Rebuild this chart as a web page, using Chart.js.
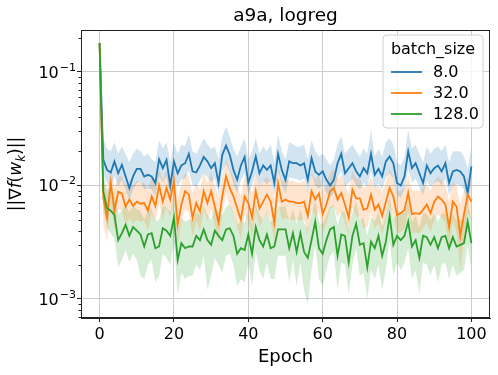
<!DOCTYPE html>
<html><head><meta charset="utf-8">
<script src="https://cdn.jsdelivr.net/npm/chart.js@4/dist/chart.umd.min.js"></script>
<style>html,body{margin:0;padding:0;background:#fff;}canvas{display:block;}</style>
</head><body>
<canvas id="c" width="498" height="375"></canvas>
<script>
const epochs = Array.from({length:101},(_,i)=>i);
const xTicks = [0,20,40,60,80,100];
const yTicks = [1e-3,1e-2,1e-1];
const yTickExponents = ['\u22123','\u22122','\u22121'];
const seriesNames = ['8.0','32.0','128.0'];

const blueMean = [0.18,0.0168,0.0137,0.013,0.0163,0.0128,0.0152,0.012,0.0095,0.012,0.014,0.014,0.012,0.0124,0.012,0.0105,0.017,0.0142,0.0168,0.0100,0.0163,0.0128,0.015,0.0157,0.019,0.0133,0.013,0.015,0.0178,0.0163,0.0142,0.0157,0.0105,0.0186,0.0224,0.0186,0.0137,0.0112,0.015,0.0178,0.0105,0.0133,0.018,0.0128,0.015,0.0137,0.015,0.0105,0.019,0.0137,0.0112,0.0163,0.0157,0.0157,0.015,0.0157,0.0112,0.0174,0.0133,0.0124,0.0133,0.0112,0.010,0.0112,0.0157,0.019,0.0128,0.0142,0.0157,0.0133,0.012,0.0142,0.0128,0.019,0.0124,0.014,0.012,0.0163,0.018,0.0157,0.0105,0.010,0.012,0.020,0.0142,0.0157,0.0128,0.0105,0.015,0.0128,0.0142,0.015,0.0133,0.0157,0.0105,0.0133,0.0137,0.0133,0.012,0.0086,0.0147];
const blueUpper = [0.185,0.026,0.021,0.020,0.024,0.019,0.022,0.019,0.016,0.019,0.021,0.020,0.018,0.019,0.017,0.016,0.025,0.021,0.024,0.016,0.024,0.019,0.023,0.022,0.028,0.020,0.019,0.022,0.026,0.023,0.021,0.022,0.017,0.027,0.033,0.027,0.021,0.018,0.022,0.026,0.017,0.020,0.026,0.019,0.022,0.020,0.023,0.016,0.028,0.020,0.017,0.024,0.023,0.022,0.022,0.023,0.017,0.025,0.020,0.018,0.019,0.017,0.015,0.017,0.023,0.027,0.019,0.021,0.023,0.020,0.018,0.021,0.019,0.031,0.018,0.021,0.018,0.024,0.026,0.023,0.016,0.015,0.018,0.031,0.021,0.023,0.019,0.016,0.022,0.019,0.021,0.022,0.020,0.023,0.016,0.020,0.020,0.020,0.018,0.014,0.022];
const blueLower = [0.175,0.0125,0.0105,0.0098,0.012,0.0098,0.0112,0.0092,0.0074,0.0092,0.0105,0.0106,0.0092,0.0094,0.0092,0.0082,0.0122,0.0106,0.0122,0.0078,0.0118,0.0097,0.0112,0.0116,0.0135,0.0100,0.0098,0.011,0.0128,0.0118,0.0106,0.0115,0.0082,0.0132,0.0155,0.0134,0.0102,0.0086,0.011,0.0128,0.0082,0.0100,0.0128,0.0097,0.011,0.0103,0.011,0.0081,0.0135,0.0102,0.0086,0.0118,0.0115,0.0114,0.011,0.0115,0.0086,0.0125,0.0100,0.0094,0.010,0.0086,0.0078,0.0086,0.0115,0.0135,0.0097,0.0105,0.0115,0.010,0.0092,0.0105,0.0097,0.0135,0.0094,0.0104,0.0092,0.0118,0.0128,0.0115,0.0082,0.0078,0.0092,0.014,0.0105,0.0115,0.0097,0.0082,0.011,0.0097,0.0105,0.011,0.010,0.0115,0.0082,0.010,0.0102,0.010,0.0092,0.0066,0.011];

const orangeMean = [0.18,0.0078,0.0052,0.0105,0.0060,0.0088,0.0085,0.0065,0.0075,0.0066,0.0072,0.0069,0.0070,0.0060,0.0080,0.0066,0.0100,0.0072,0.0095,0.0075,0.0108,0.0045,0.0068,0.0089,0.0083,0.0052,0.0070,0.0059,0.0089,0.0070,0.0089,0.0065,0.0047,0.0080,0.0120,0.0095,0.0080,0.0063,0.0050,0.0080,0.0070,0.0052,0.0089,0.0063,0.0072,0.0083,0.0072,0.0047,0.0105,0.0072,0.0075,0.0072,0.0072,0.0070,0.0070,0.0072,0.0054,0.0089,0.0075,0.0085,0.0056,0.0068,0.0089,0.0095,0.0075,0.0086,0.0068,0.0052,0.0092,0.0077,0.0077,0.0061,0.0063,0.0083,0.0061,0.0068,0.0054,0.0072,0.0095,0.0080,0.0055,0.0057,0.0061,0.0086,0.0056,0.0057,0.0056,0.0061,0.0068,0.0057,0.0072,0.0080,0.0075,0.0068,0.0043,0.0072,0.0065,0.0036,0.0056,0.0083,0.0072];
const orangeUpper = [0.185,0.011,0.0085,0.014,0.0095,0.012,0.012,0.0098,0.011,0.010,0.011,0.0105,0.0105,0.0092,0.0118,0.010,0.014,0.011,0.0135,0.011,0.015,0.0075,0.0105,0.013,0.012,0.0085,0.0105,0.0092,0.013,0.0105,0.013,0.010,0.0078,0.012,0.017,0.014,0.012,0.0098,0.0082,0.012,0.0105,0.0085,0.013,0.0098,0.011,0.012,0.011,0.0078,0.015,0.011,0.0112,0.011,0.011,0.0105,0.0105,0.011,0.0088,0.013,0.0112,0.0125,0.009,0.0102,0.013,0.014,0.0112,0.0125,0.0102,0.0085,0.0135,0.0115,0.0115,0.0095,0.0098,0.012,0.0095,0.0102,0.0088,0.0108,0.014,0.012,0.0088,0.009,0.0095,0.0125,0.009,0.009,0.009,0.0095,0.0102,0.009,0.0108,0.012,0.0112,0.0102,0.0072,0.0108,0.010,0.0068,0.009,0.012,0.0108];
const orangeLower = [0.175,0.0045,0.0032,0.0072,0.0040,0.0062,0.006,0.0045,0.0052,0.0046,0.005,0.0048,0.0049,0.0041,0.0056,0.0046,0.007,0.005,0.0066,0.0052,0.0075,0.003,0.0047,0.0062,0.0058,0.0035,0.0049,0.004,0.0062,0.0049,0.0062,0.0045,0.0032,0.0056,0.0084,0.0066,0.0056,0.0043,0.0034,0.0056,0.0049,0.0035,0.0062,0.0043,0.005,0.0058,0.005,0.0032,0.0073,0.005,0.0052,0.005,0.005,0.0049,0.0049,0.005,0.0037,0.0062,0.0052,0.0059,0.0038,0.0047,0.0062,0.0066,0.0052,0.006,0.0047,0.0036,0.0064,0.0053,0.0053,0.0042,0.0043,0.0058,0.0042,0.0047,0.0037,0.005,0.0066,0.0055,0.0038,0.0039,0.0042,0.006,0.0038,0.0039,0.0038,0.0042,0.0047,0.0039,0.005,0.0056,0.0052,0.0047,0.0028,0.005,0.0038,0.0018,0.0034,0.0058,0.005];

const greenMean = [0.18,0.0088,0.0063,0.0060,0.0055,0.0033,0.0038,0.0045,0.0036,0.0043,0.0040,0.0037,0.0029,0.0037,0.0038,0.0028,0.0029,0.0042,0.0040,0.0036,0.0052,0.0022,0.0031,0.0028,0.0029,0.0029,0.0036,0.0033,0.0041,0.0033,0.0030,0.0040,0.0036,0.0033,0.0041,0.0042,0.0036,0.0025,0.0028,0.0027,0.0037,0.0025,0.0043,0.0033,0.0029,0.0037,0.0028,0.0029,0.0041,0.0041,0.0041,0.0028,0.0038,0.0026,0.0038,0.0026,0.0023,0.0033,0.0048,0.0028,0.0025,0.0033,0.0041,0.0043,0.0024,0.0037,0.0036,0.0021,0.0036,0.0046,0.0030,0.0031,0.0019,0.0032,0.0028,0.0036,0.0024,0.0032,0.0054,0.0030,0.0036,0.0033,0.0036,0.0048,0.0029,0.0033,0.0023,0.0036,0.0035,0.0030,0.0035,0.0028,0.0035,0.0036,0.0028,0.0035,0.0029,0.0030,0.0031,0.0048,0.0031];
const greenUpper = [0.185,0.012,0.0095,0.009,0.0085,0.0055,0.006,0.0068,0.0058,0.0066,0.0062,0.006,0.005,0.006,0.0062,0.0048,0.005,0.0066,0.0065,0.0058,0.008,0.004,0.0052,0.0048,0.005,0.005,0.0058,0.0055,0.0065,0.0055,0.005,0.0064,0.0058,0.0055,0.0065,0.0068,0.0058,0.0045,0.0048,0.0047,0.006,0.0045,0.0068,0.0055,0.005,0.006,0.0048,0.005,0.0065,0.0065,0.0065,0.0048,0.0062,0.0046,0.0062,0.0046,0.0042,0.0055,0.0075,0.0048,0.0045,0.0055,0.0065,0.0068,0.0044,0.006,0.0058,0.004,0.0058,0.0072,0.005,0.0052,0.0036,0.0053,0.0048,0.0058,0.0043,0.0053,0.008,0.005,0.0058,0.0055,0.0058,0.0072,0.0048,0.0055,0.0042,0.0058,0.0056,0.005,0.0056,0.0048,0.0056,0.0058,0.0048,0.0056,0.0049,0.005,0.0051,0.0072,0.005];
const greenLower = [0.175,0.0062,0.0042,0.0038,0.0034,0.0019,0.0022,0.0027,0.0021,0.0025,0.0022,0.0016,0.0015,0.002,0.0022,0.0014,0.0016,0.0025,0.0023,0.002,0.0032,0.0011,0.0017,0.0015,0.0016,0.0016,0.002,0.0018,0.0024,0.0012,0.0016,0.0023,0.002,0.0017,0.0024,0.0025,0.002,0.0013,0.0015,0.0014,0.0021,0.0013,0.0026,0.0018,0.0015,0.0021,0.0015,0.0015,0.0024,0.0024,0.0024,0.0014,0.0022,0.0013,0.0021,0.0012,0.0009,0.0018,0.003,0.0015,0.0013,0.0018,0.0024,0.0026,0.0012,0.0021,0.002,0.0011,0.002,0.0028,0.0016,0.0017,0.001,0.0018,0.0015,0.002,0.0012,0.0018,0.0033,0.0016,0.0021,0.0018,0.0021,0.0028,0.0015,0.0018,0.0011,0.0021,0.002,0.0016,0.002,0.0014,0.002,0.0021,0.0015,0.002,0.0016,0.0017,0.0018,0.003,0.0018];

const colors = ['#1f77b4','#ff7f0e','#2ca02c'];
const bandColors = ['rgba(31,119,180,0.2)','rgba(255,127,14,0.2)','rgba(44,160,44,0.2)'];
const means = [blueMean, orangeMean, greenMean];
const uppers = [blueUpper, orangeUpper, greenUpper];
const lowers = [blueLower, orangeLower, greenLower];

function pts(arr){ return arr.map((v,i)=>({x:epochs[i], y:v})); }

const datasets = [];
for (let s=0;s<3;s++){
  datasets.push({label:'up'+s, data:pts(uppers[s]), borderWidth:0, pointRadius:0, fill:'+1', backgroundColor:bandColors[s], borderColor:'rgba(0,0,0,0)', order:10, tension:0});
  datasets.push({label:'lo'+s, data:pts(lowers[s]), borderWidth:0, pointRadius:0, fill:false, borderColor:'rgba(0,0,0,0)', order:10, tension:0});
}
for (let s=0;s<3;s++){
  datasets.push({label:seriesNames[s], data:pts(means[s]), borderWidth:1.8, pointRadius:0, fill:false, borderColor:colors[s], order:2-s, tension:0});
}

const FONT = "'DejaVu Sans', sans-serif";

const decor = {
  id:'decor',
  afterDraw(chart){
    const ctx = chart.ctx, a = chart.chartArea;
    const ys = chart.scales.y;
    ctx.save();
    ctx.strokeStyle = '#222'; ctx.lineWidth = 1;
    ctx.strokeRect(Math.round(a.left)+0.5, Math.round(a.top)+0.5, Math.round(a.right-a.left)-1, Math.round(a.bottom-a.top)-1);
    ctx.beginPath();
    for (let e=-4;e<=0;e++){
      for (let m=2;m<=9;m++){
        const v = m*Math.pow(10,e);
        if (v<ys.min || v>ys.max) continue;
        const y = Math.round(ys.getPixelForValue(v))+0.5;
        ctx.moveTo(a.left-2.5, y); ctx.lineTo(a.left, y);
      }
    }
    ctx.stroke();
    ctx.fillStyle = '#000';
    ctx.textBaseline = 'alphabetic'; ctx.textAlign = 'left';
    yTicks.forEach((v,i)=>{
      const y = ys.getPixelForValue(v);
      ctx.font = '11px ' + FONT;
      const ew = ctx.measureText(yTickExponents[i]).width;
      ctx.font = '16px ' + FONT;
      const bw = ctx.measureText('10').width;
      const right = a.left - 5;
      const x0 = right - ew - bw - 1;
      ctx.fillText('10', x0, y + 6);
      ctx.font = '11px ' + FONT;
      ctx.fillText(yTickExponents[i], x0 + bw + 1, y - 1);
    });
    ctx.font = '18.5px ' + FONT;
    ctx.textAlign = 'center';
    ctx.fillText('a9a, logreg', (a.left+a.right)/2, 21);
    ctx.font = '18px ' + FONT;
    ctx.fillText('Epoch', (a.left+a.right)/2, 362);
    ctx.save();
    ctx.translate(15, (a.top+a.bottom)/2);
    ctx.rotate(-Math.PI/2);
    const parts = [
      ['||\u2207', '17px '+FONT, 0],
      ['f', 'italic 17px '+FONT, 0],
      ['(', '17px '+FONT, 0],
      ['w', 'italic 17px '+FONT, 0],
      ['k', 'italic 12px '+FONT, 4],
      [')||', '17px '+FONT, 0]
    ];
    let w = 0;
    for (const p of parts){ ctx.font = p[1]; w += ctx.measureText(p[0]).width; }
    let x = -w/2;
    ctx.textAlign = 'left';
    for (const p of parts){ ctx.font = p[1]; ctx.fillText(p[0], x, 6 + p[2]); x += ctx.measureText(p[0]).width; }
    ctx.restore();
    const lx = 383, ly = 35, lw = 100, lh = 93, r = 4;
    ctx.beginPath();
    ctx.moveTo(lx+r, ly); ctx.lineTo(lx+lw-r, ly); ctx.arcTo(lx+lw, ly, lx+lw, ly+r, r);
    ctx.lineTo(lx+lw, ly+lh-r); ctx.arcTo(lx+lw, ly+lh, lx+lw-r, ly+lh, r);
    ctx.lineTo(lx+r, ly+lh); ctx.arcTo(lx, ly+lh, lx, ly+lh-r, r);
    ctx.lineTo(lx, ly+r); ctx.arcTo(lx, ly, lx+r, ly, r); ctx.closePath();
    ctx.fillStyle = 'rgba(255,255,255,0.8)'; ctx.fill();
    ctx.strokeStyle = '#d0d0d0'; ctx.lineWidth = 1; ctx.stroke();
    ctx.fillStyle = '#000';
    ctx.font = '16px ' + FONT; ctx.textAlign = 'center'; ctx.textBaseline = 'alphabetic';
    ctx.fillText('batch_size', lx+lw/2, 54);
    ctx.textAlign = 'left'; ctx.textBaseline = 'middle';
    ctx.font = '16px ' + FONT;
    for (let s=0;s<3;s++){
      const yy = 72 + s*21;
      ctx.strokeStyle = colors[s]; ctx.lineWidth = 1.8;
      ctx.beginPath(); ctx.moveTo(391, yy); ctx.lineTo(422, yy); ctx.stroke();
      ctx.fillStyle = '#000';
      ctx.fillText(seriesNames[s], 433, yy+1);
    }
    ctx.restore();
  }
};

new Chart(document.getElementById('c'), {
  type:'line',
  data:{datasets},
  options:{
    responsive:false, animation:false, devicePixelRatio:1,
    layout:{padding:{left:0,right:8,top:30,bottom:0}},
    plugins:{legend:{display:false}, title:{display:false}, tooltip:{enabled:false}},
    scales:{
      x:{type:'linear', min:-5, max:105,
        afterBuildTicks:(s)=>{ s.ticks = xTicks.map(v=>({value:v})); },
        afterFit:(s)=>{ s.height = 57; },
        grid:{color:'#cccccc', lineWidth:1, tickColor:'#222', tickLength:4, drawTicks:true},
        border:{display:true, color:'#222', width:1},
        ticks:{color:'#000', font:{family:FONT, size:16}, padding:3, maxRotation:0, autoSkip:false,
          callback:(v)=>String(v)}
      },
      y:{type:'logarithmic', min:6.8e-4, max:0.234,
        afterBuildTicks:(s)=>{ s.ticks = yTicks.map(v=>({value:v})); },
        afterFit:(s)=>{ s.width = 81; },
        grid:{color:'#cccccc', lineWidth:1, tickColor:'#222', tickLength:4, drawTicks:true},
        border:{display:true, color:'#222', width:1},
        ticks:{color:'#000', font:{family:FONT, size:16}, padding:4, autoSkip:false,
          callback:()=>''}
      }
    }
  },
  plugins:[decor]
});
</script>
</body></html>
